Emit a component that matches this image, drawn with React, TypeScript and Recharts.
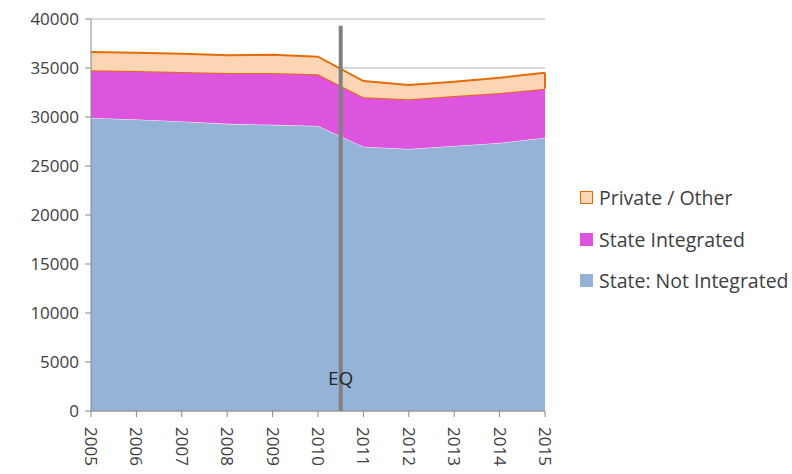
import React from 'react';
import {
  AreaChart,
  Area,
  XAxis,
  YAxis,
  CartesianGrid,
  ReferenceLine,
  ReferenceDot,
} from 'recharts';

// Source values (students)
const years = [2005, 2006, 2007, 2008, 2009, 2010, 2011, 2012, 2013, 2014, 2015];
const stateNotIntegrated = [29900, 29750, 29550, 29300, 29200, 29080, 26970, 26730, 27050, 27350, 27890];
const stateIntegrated = [4860, 4950, 5050, 5200, 5300, 5280, 5040, 5070, 5100, 5100, 5000];
const privateOther = [1870, 1850, 1850, 1800, 1850, 1790, 1660, 1470, 1450, 1550, 1630];
const yTicks = [0, 5000, 10000, 15000, 20000, 25000, 30000, 35000, 40000];
const quakeYear = 2010.5;

const FONT = '"Open Sans", sans-serif';

const SERIES = [
  { key: 'privateOther', name: 'Private / Other', fill: '#FCD5B5', border: '#E46C0A' },
  { key: 'stateIntegrated', name: 'State Integrated', fill: '#DD55DF', border: '#DD55DF' },
  { key: 'stateNotIntegrated', name: 'State: Not Integrated', fill: '#95B3D7', border: '#95B3D7' },
];

const data = years.map((year, i) => ({
  year,
  stateNotIntegrated: stateNotIntegrated[i],
  stateIntegrated: stateIntegrated[i],
  privateOther: privateOther[i],
}));

const last = data.length - 1;
const lastBase = stateNotIntegrated[last] + stateIntegrated[last];
const lastTop = lastBase + privateOther[last];

const YearTick = ({ x, y, payload }: any) => (
  <text
    x={0}
    y={0}
    transform={`translate(${x - 6},${y + 8}) rotate(90)`}
    textAnchor="start"
    fill="#404040"
    fontSize={17}
    fontFamily={FONT}
  >
    {payload.value}
  </text>
);

const Legend = () => (
  <div
    style={{
      position: 'absolute',
      left: 580,
      top: 177,
      fontFamily: FONT,
      fontSize: 19.5,
      color: '#404040',
    }}
  >
    {SERIES.map((s) => (
      <div key={s.key} style={{ display: 'flex', alignItems: 'center', height: 41.5, whiteSpace: 'nowrap' }}>
        <span
          style={{
            display: 'inline-block',
            width: 11,
            height: 11,
            background: s.fill,
            border: `1px solid ${s.border}`,
            marginRight: 6,
          }}
        />
        <span>{s.name}</span>
      </div>
    ))}
  </div>
);

export default function App() {
  return (
    <div style={{ position: 'absolute', left: 0, top: 0, width: 792, height: 474, background: '#fff' }}>
      <AreaChart
        width={792}
        height={474}
        data={data}
        margin={{ top: 19, right: 247, bottom: 0, left: 0 }}
      >
        <CartesianGrid vertical={false} stroke="#b3b3b3" />
        <XAxis
          dataKey="year"
          type="number"
          domain={[2005, 2015]}
          ticks={years}
          interval={0}
          height={63}
          tick={<YearTick />}
          tickSize={6}
          axisLine={{ stroke: '#888' }}
          tickLine={{ stroke: '#888' }}
        />
        <YAxis
          domain={[0, 40000]}
          ticks={yTicks}
          width={91}
          tickSize={6}
          tickMargin={6}
          axisLine={{ stroke: '#888' }}
          tickLine={{ stroke: '#888' }}
          tick={{ fill: '#404040', fontSize: 17, fontFamily: FONT }}
        />
        <Area
          type="linear"
          dataKey="stateNotIntegrated"
          stackId="1"
          fill="#95B3D7"
          fillOpacity={1}
          stroke="#ffffff"
          strokeWidth={1}
          isAnimationActive={false}
        />
        <Area
          type="linear"
          dataKey="stateIntegrated"
          stackId="1"
          fill="#DD55DF"
          fillOpacity={1}
          stroke="#E46C0A"
          strokeWidth={2}
          isAnimationActive={false}
        />
        <Area
          type="linear"
          dataKey="privateOther"
          stackId="1"
          fill="#FCD5B5"
          fillOpacity={1}
          stroke="#E46C0A"
          strokeWidth={2}
          isAnimationActive={false}
        />
        <ReferenceLine
          segment={[
            { x: 2015, y: lastBase },
            { x: 2015, y: lastTop },
          ]}
          stroke="#E46C0A"
          strokeWidth={2}
        />
        <ReferenceLine
          segment={[
            { x: quakeYear, y: 0 },
            { x: quakeYear, y: 39300 },
          ]}
          stroke="#808080"
          strokeWidth={4}
        />
        <ReferenceDot
          x={quakeYear}
          y={3350}
          r={0}
          fill="none"
          stroke="none"
          label={{
            value: 'EQ',
            position: 'center',
            fill: '#262626',
            fontSize: 19,
            fontFamily: FONT,
          }}
        />
      </AreaChart>
      <Legend />
    </div>
  );
}
